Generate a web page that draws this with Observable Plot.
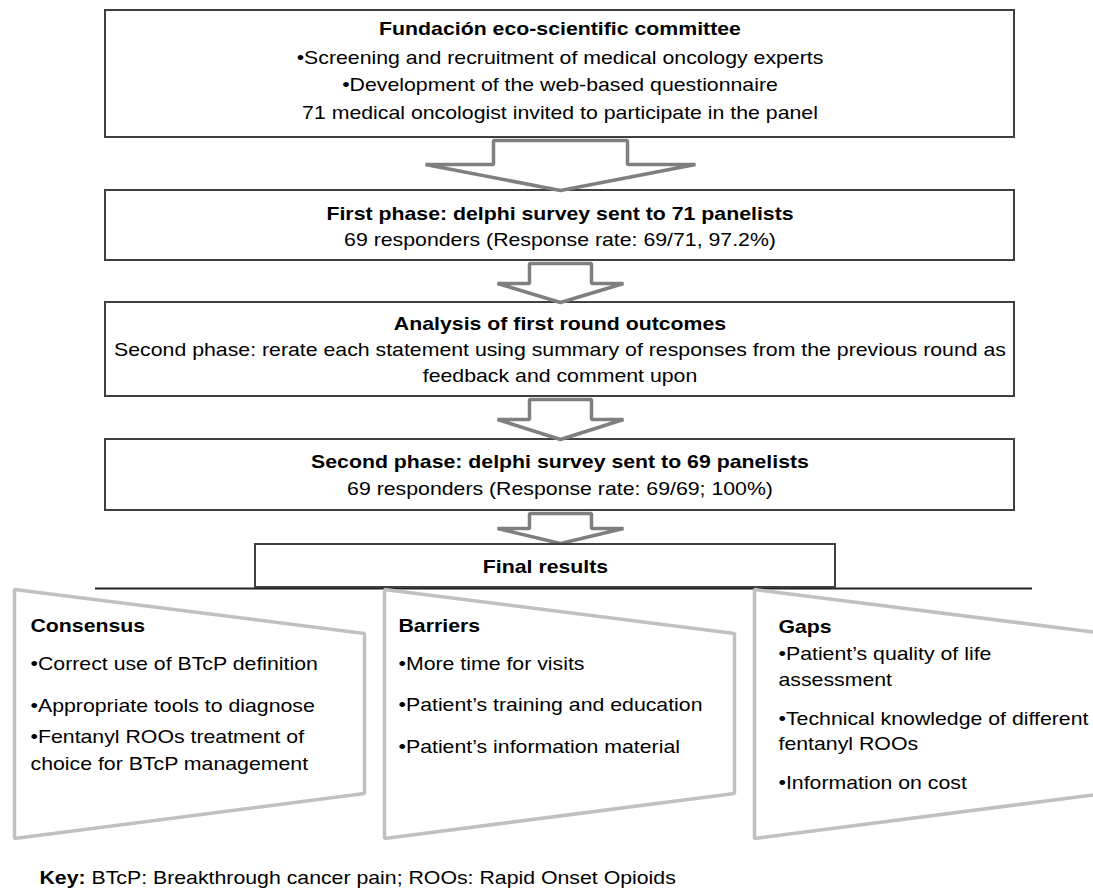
<!DOCTYPE html>
<html><head><meta charset="utf-8">
<script src="https://cdn.jsdelivr.net/npm/d3@7"></script>
<script src="https://cdn.jsdelivr.net/npm/@observablehq/plot@0.6"></script>
<style>body{margin:0;background:#fff}</style>
</head><body><div id="chart"></div>
<script>
// ---- content ----
const boxTitles = [
  "Fundación eco-scientific committee",
  "First phase: delphi survey sent to 71 panelists",
  "Analysis of first round outcomes",
  "Second phase: delphi survey sent to 69 panelists"
];
const boxLines = [
  ["•Screening and recruitment of medical oncology experts",
   "•Development of the web-based questionnaire",
   "71 medical oncologist invited to participate in the panel"],
  ["69 responders (Response rate: 69/71, 97.2%)"],
  ["Second phase: rerate each statement using summary of responses from the previous round as",
   "feedback and comment upon"],
  ["69 responders (Response rate: 69/69; 100%)"]
];
const finalTitle = "Final results";
const panelTitles = ["Consensus", "Barriers", "Gaps"];
const panelItems = [
  [["•Correct use of BTcP definition"], ["•Appropriate tools to diagnose"],
   ["•Fentanyl ROOs treatment of", "choice for BTcP management"]],
  [["•More time for visits"], ["•Patient’s training and education"], ["•Patient’s information material"]],
  [["•Patient’s quality of life", "assessment"], ["•Technical knowledge of different", "fentanyl ROOs"],
   ["•Information on cost"]]
];
const keyLabel = "Key:";
const keyText = "BTcP: Breakthrough cancer pain; ROOs: Rapid Onset Opioids";

// ---- layout ----
const W = 1093, H = 888;
const boxX = [105, 1014];
const boxY = [[10, 137], [190, 260], [302, 396], [439, 510]];
const boxTextY = [[28, 57, 84, 112], [213, 239], [323, 349, 375], [461, 488]];
// arrows: [cx, top, headBase, tip, shaftHalf, headHalf]
const arrows = [[560, 140, 164, 190, 67, 135], [560, 263, 283, 302, 31, 63],
                [560, 399, 419, 439, 31, 63], [560, 513, 528, 543, 31, 63]];
const finalBox = {x1: 255, x2: 835, y1: 544, y2: 587, ty: 566};
const baseLine = {y: 588, x1: 95, x2: 1032};
const panelLeft = [14, 384, 754], panelW = 350;
const panelYs = {tl: 589, tr: 633, br: 793, bl: 838};
const panelTextX = [30, 398, 778];
const panelTitleY = [625, 625, 626];
const panelLineY = [[[663], [705], [736, 763]], [[663], [704], [746]], [[653, 679], [718, 743], [782]]];
const keyX = 39, keyY = 877, keyGap = 52;
const FS = 19, STRETCH = 1.12;

// ---- derived tables ----
const boxes = boxY.map(([y1, y2]) => ({x1: boxX[0], x2: boxX[1], y1, y2}));
const cx = (boxX[0] + boxX[1]) / 2;
const boldRows = boxTitles.map((t, i) => ({x: cx, y: boxTextY[i][0], text: t}));
const normRows = boxLines.flatMap((ls, i) => ls.map((t, j) => ({x: cx, y: boxTextY[i][j + 1], text: t})));
const arrowPts = arrows.flatMap(([c, t, hb, tip, s, h], id) => [
  [c - s, t], [c + s, t], [c + s, hb], [c + h, hb], [c, tip], [c - h, hb], [c - s, hb]
].map(([x, y]) => ({id, x, y})));
const panelPts = panelLeft.flatMap((l, id) => [
  [l, panelYs.tl], [l + panelW, panelYs.tr], [l + panelW, panelYs.br], [l, panelYs.bl]
].map(([x, y]) => ({id, x, y})));
const panelTitleRows = panelTitles.map((t, i) => ({x: panelTextX[i], y: panelTitleY[i], text: t}));
const panelRows = panelItems.flatMap((items, i) => items.flatMap((ls, j) =>
  ls.map((t, k) => ({x: panelTextX[i], y: panelLineY[i][j][k], text: t}))));

const chart = Plot.plot({
  width: W, height: H, margin: 0,
  x: {type: "linear", domain: [0, W], range: [0, W], axis: null},
  y: {type: "linear", domain: [0, H], range: [0, H], axis: null},
  style: {fontFamily: "'Liberation Sans', Arial, sans-serif", background: "#fff", overflow: "hidden"},
  marks: [
    Plot.rect(boxes, {x1: "x1", x2: "x2", y1: "y1", y2: "y2", fill: "#fff", stroke: "#3f3f3f", strokeWidth: 2}),
    Plot.line(arrowPts, {x: "x", y: "y", z: "id", curve: "linear-closed", stroke: "#7f7f7f", strokeWidth: 3.5, strokeLinejoin: "miter"}),
    Plot.ruleY([baseLine.y], {x1: baseLine.x1, x2: baseLine.x2, stroke: "#222", strokeWidth: 2}),
    Plot.rect([finalBox], {x1: "x1", x2: "x2", y1: "y1", y2: "y2", fill: "#fff", stroke: "#3f3f3f", strokeWidth: 2}),
    Plot.line(panelPts, {x: "x", y: "y", z: "id", curve: "linear-closed", stroke: "#c0c0c0", strokeWidth: 3.5, strokeLinejoin: "miter"}),
    Plot.text(boldRows, {x: "x", y: "y", text: "text", fontWeight: "bold", fontSize: FS, fill: "#000"}),
    Plot.text(normRows, {x: "x", y: "y", text: "text", fontSize: FS, fill: "#000"}),
    Plot.text([{x: (finalBox.x1 + finalBox.x2) / 2, y: finalBox.ty, text: finalTitle}], {x: "x", y: "y", text: "text", fontWeight: "bold", fontSize: FS, fill: "#000"}),
    Plot.text(panelTitleRows, {x: "x", y: "y", text: "text", textAnchor: "start", fontWeight: "bold", fontSize: FS, fill: "#000"}),
    Plot.text(panelRows, {x: "x", y: "y", text: "text", textAnchor: "start", fontSize: FS, fill: "#000"}),
    Plot.text([{x: keyX, y: keyY, text: keyLabel}], {x: "x", y: "y", text: "text", textAnchor: "start", fontWeight: "bold", fontSize: FS, fill: "#000"}),
    Plot.text([{x: keyX + keyGap, y: keyY, text: keyText}], {x: "x", y: "y", text: "text", textAnchor: "start", fontSize: FS, fill: "#000"})
  ]
});
document.getElementById("chart").appendChild(chart);
// the reference's lettering is slightly wide: stretch glyphs horizontally
d3.select(chart).selectAll("text").each(function () {
  const len = this.getComputedTextLength();
  if (len > 0) {
    this.setAttribute("textLength", (len * STRETCH).toFixed(1));
    this.setAttribute("lengthAdjust", "spacingAndGlyphs");
  }
});
</script>
</body></html>
